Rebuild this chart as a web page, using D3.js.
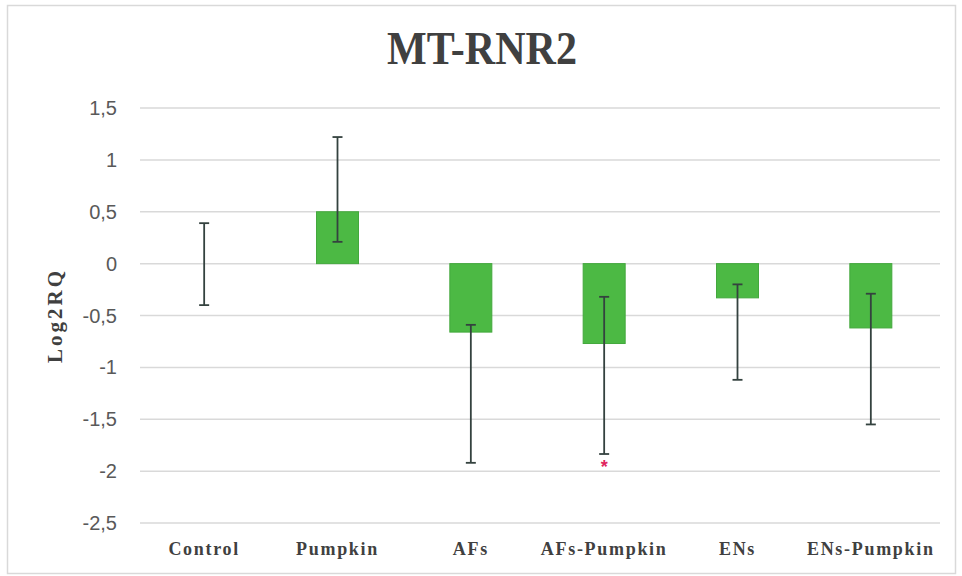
<html>
  <head>
    <style>
      body {
        margin: 0;
        background: #ffffff;
      }
      svg {
        width: 962px;
        height: 576px;
        display: block;
      }
      .title {
        font-family: "Liberation Serif", "Times New Roman", serif;
        font-weight: bold;
        font-size: 46px;
        fill: #404040;
        text-anchor: middle;
      }
      .y-title {
        font-family: "Liberation Serif", "Times New Roman", serif;
        font-weight: bold;
        font-size: 21px;
        letter-spacing: 3px;
        fill: #404040;
        text-anchor: middle;
      }
      .y-tick {
        font-family: "Liberation Sans", Arial, sans-serif;
        font-size: 20px;
        fill: #595959;
        text-anchor: end;
      }
      .x-tick {
        font-family: "Liberation Serif", "Times New Roman", serif;
        font-weight: bold;
        font-size: 18px;
        letter-spacing: 1.7px;
        fill: #404040;
        text-anchor: middle;
      }
      .grid line {
        stroke: #d9d9d9;
        stroke-width: 1.5;
      }
      .bar {
        fill: #4cb944;
        stroke: #43a83d;
        stroke-width: 1;
      }
      .err line {
        stroke: #34423f;
        stroke-width: 1.8;
      }
    </style>
  </head>
  <body>
    <script src="https://d3js.org/d3.v7.min.js"></script>
    <script>
      // values
      const categories = ["Control", "Pumpkin", "AFs", "AFs-Pumpkin", "ENs", "ENs-Pumpkin"];
      const log2rq = [0, 0.5, -0.66, -0.77, -0.33, -0.62];
      const errTop = [0.39, 1.22, -0.59, -0.32, -0.2, -0.29];
      const errBottom = [-0.4, 0.21, -1.92, -1.835, -1.12, -1.55];
      const yTicks = [1.5, 1, 0.5, 0, -0.5, -1, -1.5, -2, -2.5];
      const marked = ["AFs-Pumpkin"];

      const svg = d3.select("body").append("svg");

      // outer frame
      svg
        .append("rect")
        .attr("x", 7.5)
        .attr("y", 5.5)
        .attr("width", 948)
        .attr("height", 568)
        .attr("fill", "#ffffff")
        .attr("stroke", "#d9d9d9")
        .attr("stroke-width", 1.5);

      const x = d3.scaleBand().domain(categories).range([137.5, 937.5]).padding(0);
      const y = d3.scaleLinear().domain([-2.5, 1.5]).range([523, 108]);
      const barWidth = x.bandwidth() * 0.315;
      const capWidth = 10;

      svg
        .append("text")
        .attr("class", "title")
        .attr("x", 482)
        .attr("y", 64)
        .attr("textLength", 190)
        .attr("lengthAdjust", "spacingAndGlyphs")
        .text("MT-RNR2");

      const grid = svg.append("g").attr("class", "grid");
      yTicks.forEach((t) => {
        grid
          .append("line")
          .attr("x1", 140)
          .attr("x2", 940)
          .attr("y1", y(t))
          .attr("y2", y(t));
        svg
          .append("text")
          .attr("class", "y-tick")
          .attr("x", 117)
          .attr("y", y(t) + 7)
          .text(String(t).replace(".", ","));
      });

      svg
        .append("text")
        .attr("class", "y-title")
        .attr("transform", `translate(62, ${y(-0.5)}) rotate(-90)`)
        .text("Log2RQ");

      const bars = svg.append("g");
      categories.forEach((c, i) => {
        const cx = x(c) + x.bandwidth() / 2;
        const v = log2rq[i];
        if (v !== 0) {
          bars
            .append("rect")
            .attr("class", "bar")
            .attr("x", cx - barWidth / 2)
            .attr("y", y(Math.max(0, v)))
            .attr("width", barWidth)
            .attr("height", Math.abs(y(v) - y(0)));
        }
      });

      const err = svg.append("g").attr("class", "err");
      categories.forEach((c, i) => {
        const cx = x(c) + x.bandwidth() / 2;
        err
          .append("line")
          .attr("x1", cx)
          .attr("x2", cx)
          .attr("y1", y(errTop[i]))
          .attr("y2", y(errBottom[i]));
        [errTop[i], errBottom[i]].forEach((e) => {
          err
            .append("line")
            .attr("x1", cx - capWidth / 2)
            .attr("x2", cx + capWidth / 2)
            .attr("y1", y(e))
            .attr("y2", y(e));
        });
        if (marked.includes(c)) {
          svg
            .append("text")
            .attr("x", cx)
            .attr("y", y(errBottom[i]) + 19)
            .attr("text-anchor", "middle")
            .attr("font-family", "Liberation Sans, Arial, sans-serif")
            .attr("font-size", 18)
            .attr("font-weight", "bold")
            .attr("fill", "#e0245e")
            .text("*");
        }
      });

      categories.forEach((c) => {
        svg
          .append("text")
          .attr("class", "x-tick")
          .attr("x", x(c) + x.bandwidth() / 2)
          .attr("y", 555)
          .text(c);
      });
    </script>
  </body>
</html>
